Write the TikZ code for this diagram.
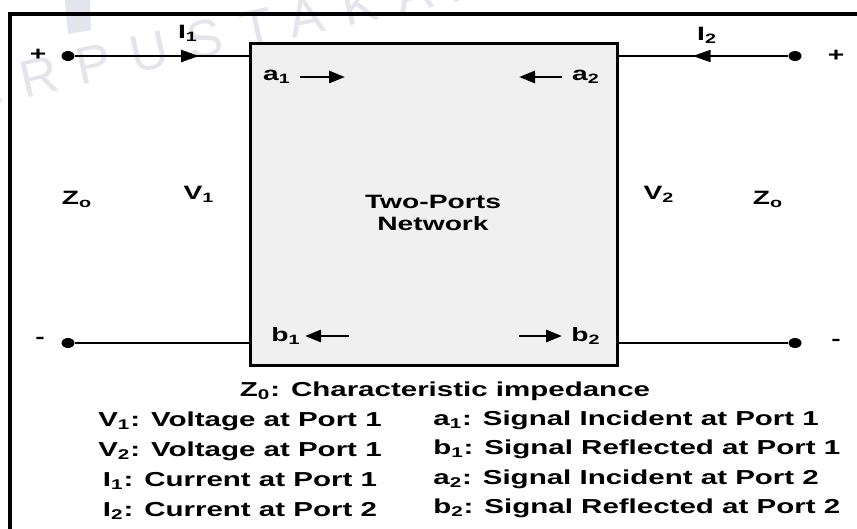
\documentclass[tikz,border=0pt]{standalone}
\usepackage{fontspec}
\setmainfont{Liberation Sans}
\newfontfamily\wide[FakeStretch=1.46]{Liberation Sans}
\usetikzlibrary{positioning,arrows.meta,shapes.geometric,decorations.markings}
\definecolor{boxgray}{RGB}{240,240,240}
\definecolor{wmark}{RGB}{228,229,236}
\tikzset{
    lbl/.style={font=\wide\bfseries\fontsize{11}{13}\selectfont,inner sep=0pt},
    legend/.style={font=\wide\bfseries\fontsize{11.5}{13}\selectfont,inner sep=0pt,anchor=base},
    net/.style={rectangle,draw,line width=1.7pt,fill=boxgray,minimum width=7.36cm,minimum height=6.46cm},
    port/.style={ellipse,fill,inner sep=0pt,minimum width=2.6mm,minimum height=2mm},
    wire/.style={line width=1.1pt},
    arr/.style={-{Triangle[length=3.2mm,width=2.4mm]},line width=1.6pt},
    midarr/.style={postaction={decorate},decoration={markings,mark=at position #1 with {\arrow{Triangle[length=3.6mm,width=2.4mm]}}}},
}
\newcommand{\sub}[1]{\textsubscript{#1}}

\begin{document}
\begin{tikzpicture}[x=0.02cm,y=-0.02cm]
\clip (0,0) rectangle (857,528);
% watermark
\fill[wmark] (65,0) -- (90,0) -- (91,30) -- (68,34) -- cycle;
\node[text=wmark,font=\fontsize{30}{32}\selectfont\addfontfeature{LetterSpace=38},rotate=12.5,anchor=base west,inner sep=0pt] (wm) at (-84,122) {PERPUSTAKAAN};
% frame
\draw[line width=2.5pt] (10,14) rectangle (880,560);

\node[net] (box) at (434,204.5) {};
\node[lbl,align=center] (name) at (433,213) {Two-Ports\\Network};

% ports
\node[port] (p1) at (68,56) {};
\node[port] (p2) at (795,56) {};
\node[port] (m1) at (68,343) {};
\node[port] (m2) at (795,343) {};
\node[lbl] (pl1) at (38,55) {+};
\node[lbl] (pl2) at (836,56) {+};
\node[lbl] (mi1) at (40,340) {-};
\node[lbl] (mi2) at (836,342) {-};

\draw[wire,midarr=0.715] (p1) -- (p1 -| box.west);
\draw[wire,midarr=0.566] (p2) -- (p2 -| box.east);
\draw[wire] (m1) -- (m1 -| box.west);
\draw[wire] (m2) -- (m2 -| box.east);

\node[lbl] (i1) at (188,33) {I\sub{1}};
\node[lbl] (i2) at (707,35) {I\sub{2}};
\node[lbl] (z1) at (77,199) {Z\sub{o}};
\node[lbl] (v1) at (199,194) {V\sub{1}};
\node[lbl] (v2) at (659,194) {V\sub{2}};
\node[lbl] (z2) at (768,199) {Z\sub{o}};

% waves
\node[lbl] (a1) at (277,77) {a\sub{1}};
\node[lbl] (a2) at (586,77) {a\sub{2}};
\node[lbl] (b1) at (286,336) {b\sub{1}};
\node[lbl] (b2) at (586,336) {b\sub{2}};
\coordinate (a1s) at (300,77);  \coordinate (a1e) at (345,77);
\coordinate (a2s) at (562,77);  \coordinate (a2e) at (519,77);
\coordinate (b1s) at (349,336); \coordinate (b1e) at (305,336);
\coordinate (b2s) at (519,336); \coordinate (b2e) at (562,336);
\draw[arr] (a1s) -- (a1e);
\draw[arr] (a2s) -- (a2e);
\draw[arr] (b1s) -- (b1e);
\draw[arr] (b2s) -- (b2e);

% legend
\node[legend] (lz) at (445,396) {Z\sub{0}: Characteristic impedance};
\node[legend] (lv1) at (240,426) {V\sub{1}: Voltage at Port 1};
\node[legend] (lv2) at (240,456) {V\sub{2}: Voltage at Port 1};
\node[legend] (li1) at (240,486) {I\sub{1}: Current at Port 1};
\node[legend] (li2) at (240,516) {I\sub{2}: Current at Port 2};
\node[legend,anchor=base west] (la1) at (433,425) {a\sub{1}: Signal Incident at Port 1};
\node[legend,anchor=base west] (lb1) at (433,454) {b\sub{1}: Signal Reflected at Port 1};
\node[legend,anchor=base west] (la2) at (433,484) {a\sub{2}: Signal Incident at Port 2};
\node[legend,anchor=base west] (lb2) at (433,513) {b\sub{2}: Signal Reflected at Port 2};
\end{tikzpicture}
\end{document}
